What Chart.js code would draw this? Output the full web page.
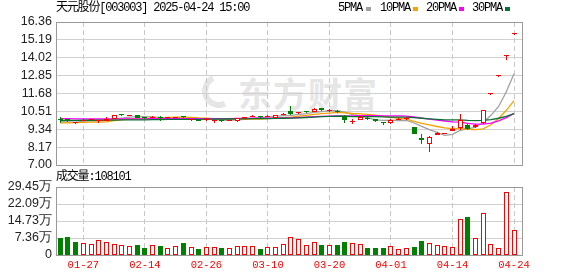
<!DOCTYPE html>
<html><head><meta charset="utf-8">
<script src="https://cdn.jsdelivr.net/npm/chart.js@4"></script>
<style>
html,body{margin:0;padding:0;background:#fff;}
#wrap{position:relative;width:578px;height:276px;overflow:hidden;background:#fff;}
canvas{position:absolute;left:0;top:0;}
.t{position:absolute;font-size:12px;font-family:"Liberation Mono","Noto Sans CJK SC",monospace;letter-spacing:-1.2px;color:#000;white-space:nowrap;line-height:14px;}
.sq{position:absolute;width:5px;height:4px;}
.wm{position:absolute;left:238px;top:68px;font:bold 34px "Noto Sans CJK SC",sans-serif;color:#e6e6e6;letter-spacing:1px;white-space:nowrap;}
.logo{position:absolute;left:202px;top:74px;width:22px;height:22px;border:6px solid #e6e6e6;border-radius:50%;border-right-color:transparent;border-top-color:transparent;transform:rotate(20deg);}
</style></head>
<body>
<div id="wrap">
  <div class="logo"></div>
  <div class="wm">东方财富</div>
  <canvas id="pc" width="578" height="276"></canvas>
  <canvas id="vc" width="578" height="276"></canvas>
  <div class="t" style="left:56px;top:1px;">天元股份[003003] 2025-04-24 15:00</div>
  <div class="t" style="left:338px;top:1px;">5PMA</div><div class="sq" style="left:366px;top:7px;background:#a0a0a0"></div>
  <div class="t" style="left:380px;top:1px;">10PMA</div><div class="sq" style="left:413px;top:7px;background:#f4a300"></div>
  <div class="t" style="left:426px;top:1px;">20PMA</div><div class="sq" style="left:459px;top:7px;background:#ff00ff"></div>
  <div class="t" style="left:472px;top:1px;">30PMA</div><div class="sq" style="left:505px;top:7px;background:#0a7035"></div>
  <div class="t" style="left:56px;top:170px;">成交量:108101</div>
</div>
<script>
// ---------------- data ----------------
const dates = ["01-22","01-23","01-24","01-27","02-05","02-06","02-07","02-10","02-11","02-12",
 "02-13","02-14","02-17","02-18","02-19","02-20","02-21","02-24","02-25","02-26",
 "02-27","02-28","03-03","03-04","03-05","03-06","03-07","03-10","03-11","03-12",
 "03-13","03-14","03-17","03-18","03-19","03-20","03-21","03-24","03-25","03-26",
 "03-27","03-28","03-31","04-01","04-02","04-03","04-07","04-08","04-09","04-10",
 "04-11","04-14","04-15","04-16","04-17","04-18","04-21","04-22","04-23","04-24"];
const opens = [10.00,10.02,9.73,9.90,9.92,9.85,9.90,10.02,10.27,10.22,
 10.24,10.10,10.08,10.12,10.06,10.08,10.15,9.92,9.95,9.92,
 9.90,9.93,9.90,9.86,10.06,10.14,10.18,10.15,10.09,10.28,
 10.55,10.38,10.50,10.50,10.73,10.56,10.52,10.22,9.82,9.95,
 10.08,10.00,9.78,9.73,9.96,10.00,9.50,8.80,8.38,8.97,
 9.05,9.24,9.45,9.62,9.49,9.72,11.68,12.85,14.14,15.55];
const highs = [10.11,10.08,9.76,10.00,9.98,9.95,10.11,10.26,10.32,10.30,
 10.26,10.12,10.18,10.20,10.13,10.17,10.20,9.98,9.97,10.09,
 9.95,9.95,9.96,10.07,10.16,10.24,10.20,10.25,10.29,10.38,
 10.85,10.48,10.52,10.72,10.76,10.66,10.58,10.30,10.00,10.18,
 10.12,10.02,9.80,9.98,10.06,10.12,9.50,9.00,8.87,9.14,
 9.12,9.57,10.31,9.66,9.70,10.62,11.68,12.85,14.14,15.55];
const lows = [9.76,9.80,9.70,9.85,9.90,9.72,9.85,10.00,10.18,10.18,
 10.06,10.02,10.05,9.85,10.03,10.05,10.06,9.86,9.86,9.85,
 9.75,9.82,9.88,9.84,10.03,10.12,10.08,10.13,10.07,10.25,
 10.30,10.34,10.40,10.45,10.52,10.50,10.40,9.78,9.66,9.92,
 9.95,9.82,9.65,9.71,9.92,9.92,9.02,8.35,7.83,8.95,
 9.00,9.20,9.30,9.32,9.45,9.70,11.68,12.85,13.90,15.55];
const closes = [9.97,9.90,9.73,9.93,9.95,9.90,10.02,10.24,10.24,10.25,
 10.08,10.06,10.12,10.08,10.10,10.15,10.12,9.95,9.90,10.00,
 9.92,9.88,9.93,10.05,10.10,10.20,10.13,10.20,10.27,10.33,
 10.33,10.42,10.46,10.68,10.58,10.62,10.48,9.92,9.86,10.14,
 10.02,9.85,9.74,9.95,10.00,10.04,9.03,8.62,8.85,9.12,
 9.09,9.37,9.93,9.35,9.65,10.62,11.68,12.85,14.14,15.55];
const ma5 = [9.83,9.82,9.81,9.86,9.90,9.88,9.91,10.01,10.07,10.13,
 10.17,10.17,10.15,10.12,10.09,10.10,10.11,10.08,10.04,10.02,
 9.98,9.93,9.93,9.96,9.98,10.03,10.08,10.14,10.18,10.23,
 10.25,10.31,10.36,10.44,10.49,10.55,10.56,10.46,10.30,10.21,
 10.09,9.96,9.92,9.94,9.91,9.92,9.75,9.53,9.31,9.13,
 8.94,9.01,9.27,9.37,9.48,9.78,10.25,10.83,11.79,12.97];
const ma10 = [9.76,9.76,9.77,9.79,9.80,9.80,9.82,9.90,9.95,10.01,
 10.02,10.04,10.08,10.09,10.11,10.13,10.14,10.12,10.08,10.06,
 10.04,10.02,10.00,10.00,10.00,10.01,10.01,10.03,10.07,10.10,
 10.14,10.20,10.25,10.31,10.36,10.40,10.44,10.41,10.37,10.35,
 10.32,10.26,10.19,10.12,10.06,10.00,9.86,9.73,9.62,9.52,
 9.43,9.38,9.40,9.34,9.31,9.36,9.63,10.05,10.58,11.22];
const ma20 = [10.03,10.03,10.02,10.02,10.01,10.01,10.01,10.02,10.02,10.02,
 10.02,10.02,10.03,10.03,10.03,10.03,10.03,10.03,10.03,10.03,
 10.03,10.03,10.04,10.05,10.05,10.07,10.08,10.07,10.07,10.08,
 10.09,10.11,10.13,10.16,10.18,10.20,10.22,10.22,10.22,10.23,
 10.23,10.23,10.22,10.22,10.21,10.20,10.15,10.07,10.00,9.94,
 9.88,9.82,9.80,9.73,9.68,9.68,9.74,9.89,10.10,10.37];
const ma30 = [9.92,9.92,9.92,9.93,9.93,9.93,9.94,9.94,9.95,9.95,
 9.96,9.96,9.97,9.97,9.98,9.98,9.99,9.99,9.99,10.00,
 10.00,10.01,10.01,10.02,10.02,10.03,10.04,10.04,10.05,10.06,
 10.07,10.09,10.11,10.14,10.16,10.18,10.20,10.19,10.17,10.17,
 10.17,10.16,10.15,10.14,10.14,10.14,10.10,10.06,10.02,9.99,
 9.96,9.95,9.95,9.92,9.91,9.92,9.97,10.06,10.19,10.37];
const volumes = [74600,79000,57000,50000,47000,63000,55000,47000,43000,40000,
 43000,31000,43000,39000,31000,40000,52000,36000,26000,36000,
 36000,31000,29000,39000,39000,39000,26000,36000,36000,47000,
 79000,69000,43000,55000,43000,43000,43000,56000,52000,47000,
 30000,30000,30000,39000,26000,30000,36000,60000,50000,43000,
 39000,34000,154000,164000,72000,180000,46000,30000,274000,108101];
const volUp = [0,0,0,1,1,1,1,1,1,1,
 0,0,1,0,1,1,0,1,0,1,
 1,0,1,1,1,1,0,1,1,1,
 1,1,1,1,0,1,0,0,1,1,
 0,0,0,1,1,1,0,0,1,1,
 1,1,1,0,1,1,1,1,1,1];
const priceTicks = [7.00,8.17,9.34,10.51,11.68,12.85,14.02,15.19,16.36];
const priceTickLabels = ["7.00","8.17","9.34","10.51","11.68","12.85","14.02","15.19","16.36"];
const volTicks = [0,73625,147250,220875,294500];
const volTickLabels = ["0","7.36万","14.73万","22.09万","29.45万"];
const labelIdx = [3,11,19,27,35,43,51,59]; // 01-27 ... 04-24
// --------------------------------------

const RED = '#ff0000', GREEN = '#008000';
const idx = dates.map((d,i)=>i);
const isUp = idx.map(i => closes[i] >= opens[i]);
const XMIN = -0.559, XMAX = 60.17;

const frame = {
  id:'frame',
  afterDraw(chart){
    const a = chart.chartArea, c = chart.ctx;
    c.save(); c.strokeStyle = '#999'; c.lineWidth = 1;
    c.strokeRect(Math.round(a.left)+0.5, Math.round(a.top)+0.5, Math.round(a.right-a.left)-1, Math.round(a.bottom-a.top));
    c.restore();
  }
};
// snap bar rectangles (positioned by the scales) onto whole pixels so they render crisp
const snap = {
  id:'snap',
  beforeDatasetsDraw(chart){
    chart.data.datasets.forEach((ds, di) => {
      const meta = chart.getDatasetMeta(di);
      if (meta.type !== 'bar') return;
      meta.data.forEach(el => {
        el.x = Math.floor(el.x) + 0.5;
        let y = Math.round(el.y), b = Math.round(el.base);
        if (Math.abs(b - y) < 1) b = y + 1;
        el.y = y; el.base = b;
      });
    });
  }
};

function xScale(showLabels){
  return {
    type:'linear', min:XMIN, max:XMAX, offset:false,
    afterBuildTicks: s => { s.ticks = labelIdx.map(v => ({value:v})); },
    afterFit: s => { s.height = showLabels ? 21 : 0; },
    ticks:{display:showLabels, autoSkip:false, maxRotation:0, padding:4, color:RED,
      font:{family:'Liberation Mono', size:10.5},
      callback:(v)=>dates[v]},
    grid:{color:'#c8c8c8', drawTicks:false, offset:false, lineWidth:1},
    border:{display:false, dash:[5,3]}
  };
}

new Chart(document.getElementById('pc'), {
  type:'bar',
  data:{datasets:[
    {type:'line', data:idx.map(i=>({x:i,y:ma30[i]})), borderColor:'#0a7035', borderWidth:1.3, pointRadius:0, order:3},
    {type:'line', data:idx.map(i=>({x:i,y:ma20[i]})), borderColor:'#ff00ff', borderWidth:1.3, pointRadius:0, order:3},
    {type:'line', data:idx.map(i=>({x:i,y:ma10[i]})), borderColor:'#f4a300', borderWidth:1.3, pointRadius:0, order:3},
    {type:'line', data:idx.map(i=>({x:i,y:ma5[i]})), borderColor:'#a0a0a0', borderWidth:1.3, pointRadius:0, order:3},
    {data:idx.map(i=>({x:i,y:[lows[i],highs[i]]})), backgroundColor:idx.map(i=>isUp[i]?RED:GREEN),
      barThickness:1, borderWidth:0, order:2, grouped:false, inflateAmount:0},
    {data:idx.map(i=>({x:i,y:[opens[i],closes[i]]})), backgroundColor:idx.map(i=>isUp[i]?'#ffffff':GREEN),
      borderColor:idx.map(i=>isUp[i]?RED:GREEN), borderWidth:1, borderSkipped:false,
      barThickness:5, minBarLength:1, order:1, grouped:false, inflateAmount:0}
  ]},
  options:{
    responsive:false, animation:false, devicePixelRatio:1,
    layout:{padding:{left:0, top:22, right:55, bottom:111}},
    plugins:{legend:{display:false}, tooltip:{enabled:false}},
    scales:{
      x:xScale(false),
      y:{min:7, max:16.36, beginAtZero:false,
        afterBuildTicks: s => { s.ticks = priceTicks.map(v=>({value:v})); },
        afterFit: s => { s.width = 56; },
        ticks:{color:'#222', padding:4, autoSkip:false, font:{family:'Liberation Sans', size:12.5},
          callback:(v,i)=>priceTickLabels[i]},
        grid:{color:'#d0d0d0', drawTicks:false},
        border:{display:false}}
    }
  },
  plugins:[snap, frame]
});

new Chart(document.getElementById('vc'), {
  type:'bar',
  data:{datasets:[
    {data:idx.map(i=>({x:i,y:volumes[i]})), backgroundColor:idx.map(i=>volUp[i]?'#ffffff':GREEN),
      borderColor:idx.map(i=>volUp[i]?RED:GREEN), borderWidth:1, borderSkipped:false,
      barThickness:5, grouped:false, inflateAmount:0}
  ]},
  options:{
    responsive:false, animation:false, devicePixelRatio:1,
    layout:{padding:{left:0, top:187, right:55, bottom:0}},
    plugins:{legend:{display:false}, tooltip:{enabled:false}},
    scales:{
      x:xScale(true),
      y:{min:0, max:294500,
        afterBuildTicks: s => { s.ticks = volTicks.map(v=>({value:v})); },
        afterFit: s => { s.width = 56; },
        ticks:{color:'#222', padding:4, autoSkip:false, font:{family:'Liberation Sans', size:12.5},
          callback:(v,i)=>volTickLabels[i]},
        grid:{color:'#d0d0d0', drawTicks:false},
        border:{display:false}}
    }
  },
  plugins:[snap, frame]
});
</script>
</body></html>
